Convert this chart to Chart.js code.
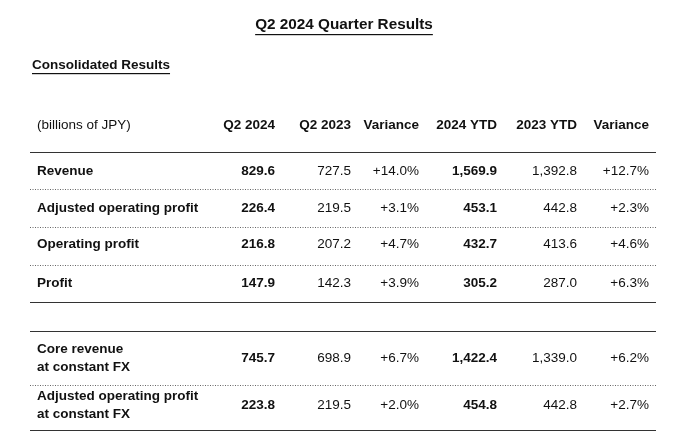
<!DOCTYPE html>
<html><head><meta charset="utf-8">
<script src="https://cdn.jsdelivr.net/npm/chart.js@4/dist/chart.umd.min.js"></script>
<style>html,body{margin:0;background:#fff}#wrap{width:684px;height:447px}</style>
</head><body><div id="wrap"><canvas id="c"></canvas></div>
<script>
const title = 'Q2 2024 Quarter Results';
const subtitle = 'Consolidated Results';
const headers = ['(billions of JPY)', 'Q2 2024', 'Q2 2023', 'Variance', '2024 YTD', '2023 YTD', 'Variance'];
const rowLabels = [['Revenue'], ['Adjusted operating profit'], ['Operating profit'], ['Profit'],
  ['Core revenue', 'at constant FX'], ['Adjusted operating profit', 'at constant FX']];
const q2_2024 = ['829.6', '226.4', '216.8', '147.9', '745.7', '223.8'];
const q2_2023 = ['727.5', '219.5', '207.2', '142.3', '698.9', '219.5'];
const varQ = ['+14.0%', '+3.1%', '+4.7%', '+3.9%', '+6.7%', '+2.0%'];
const ytd2024 = ['1,569.9', '453.1', '432.7', '305.2', '1,422.4', '454.8'];
const ytd2023 = ['1,392.8', '442.8', '413.6', '287.0', '1,339.0', '442.8'];
const varY = ['+12.7%', '+2.3%', '+4.6%', '+6.3%', '+6.2%', '+2.7%'];

// layout
const colRight = [null, 275, 351, 419, 497, 577, 649];
const rowY = [171, 208, 244, 283, 358, 405];
const boldCols = [true, true, false, false, true, false, false];
const lines = [[152, 'solid'], [189, 'dot'], [227, 'dot'], [265, 'dot'], [302, 'solid'], [331, 'solid'], [385, 'dot'], [430, 'solid']];
const FONT = '"Liberation Sans", Arial, sans-serif';
const SIZE = '13.5px ';

const tablePlugin = {
  id: 'table',
  afterDraw(chart) {
    const ctx = chart.ctx;
    const x = chart.scales.x, y = chart.scales.y;
    const px = v => x.getPixelForValue(v), py = v => y.getPixelForValue(v);
    ctx.save();
    ctx.fillStyle = '#111';
    ctx.textBaseline = 'middle';
    ctx.font = 'bold 15.3px ' + FONT;
    ctx.textAlign = 'center';
    ctx.fillText(title, px(344), py(25));
    let w = ctx.measureText(title).width;
    ctx.fillRect(px(344) - w / 2, py(34), w, 1.2);
    ctx.font = 'bold ' + SIZE + FONT;
    ctx.textAlign = 'left';
    ctx.fillText(subtitle, px(32), py(65));
    w = ctx.measureText(subtitle).width;
    ctx.fillRect(px(32), py(73), w, 1.2);
    ctx.font = SIZE + FONT;
    ctx.fillText(headers[0], px(37), py(125));
    ctx.textAlign = 'right';
    ctx.font = 'bold ' + SIZE + FONT;
    for (let c = 1; c < headers.length; c++) ctx.fillText(headers[c], px(colRight[c]), py(125));
    const cols = [null, q2_2024, q2_2023, varQ, ytd2024, ytd2023, varY];
    rowLabels.forEach((lab, r) => {
      ctx.textAlign = 'left';
      ctx.font = 'bold ' + SIZE + FONT;
      if (lab.length === 1) ctx.fillText(lab[0], px(37), py(rowY[r]));
      else { ctx.fillText(lab[0], px(37), py(rowY[r] - 9)); ctx.fillText(lab[1], px(37), py(rowY[r] + 9)); }
      ctx.textAlign = 'right';
      for (let c = 1; c < cols.length; c++) {
        ctx.font = (boldCols[c] ? 'bold ' : '') + SIZE + FONT;
        ctx.fillText(cols[c][r], px(colRight[c]), py(rowY[r]));
      }
    });
    lines.forEach(([ly, style]) => {
      ctx.beginPath();
      ctx.strokeStyle = style === 'solid' ? '#333' : '#666';
      ctx.lineWidth = 1;
      ctx.setLineDash(style === 'solid' ? [] : [1, 1.5]);
      ctx.moveTo(px(30), py(ly) + 0.5);
      ctx.lineTo(px(656), py(ly) + 0.5);
      ctx.stroke();
    });
    ctx.restore();
  }
};

new Chart(document.getElementById('c'), {
  type: 'scatter',
  data: { datasets: [{ data: [] }] },
  options: {
    responsive: true, maintainAspectRatio: false, animation: false,
    layout: { padding: 0 },
    plugins: { legend: { display: false }, tooltip: { enabled: false } },
    scales: {
      x: { type: 'linear', min: 0, max: 684, display: false },
      y: { type: 'linear', min: 0, max: 447, reverse: true, display: false }
    }
  },
  plugins: [tablePlugin]
});
</script></body></html>
